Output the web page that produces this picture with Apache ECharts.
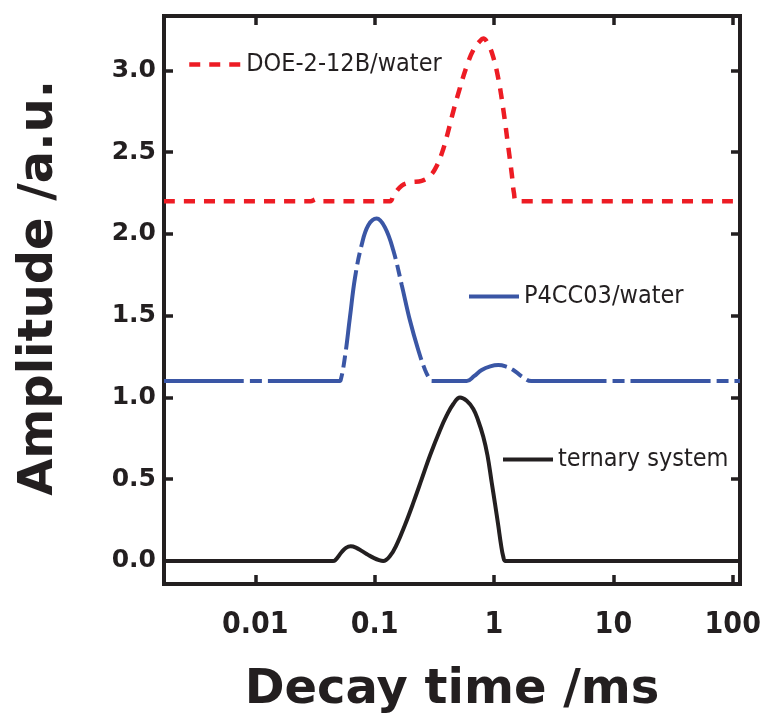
<!DOCTYPE html>
<html>
<head>
<meta charset="utf-8">
<script src="https://cdn.jsdelivr.net/npm/echarts@6/dist/echarts.min.js"></script>
<style>
html,body{margin:0;padding:0;background:#fff;}
#chart{width:765px;height:720px;}
</style>
</head>
<body>
<div id="chart"></div>
<script>
// ---- data (decay time in ms, amplitude in a.u.) ----
const xMin = 0.00172;
const xMax = 115;
const yMin = -0.141;
const yMax = 3.333;
const yTicks = [0, 0.5, 1.0, 1.5, 2.0, 2.5, 3.0];

const doeX = [0.00172, 0.029, 0.0326, 0.036, 0.1344, 0.1433, 0.1684, 0.1977, 0.248, 0.291, 0.331, 0.376, 0.414, 0.456, 0.519, 0.59, 0.671, 0.763, 0.813, 0.896, 0.987, 1.087, 1.197, 1.318, 1.407, 1.47, 1.55, 115];
const doeY = [2.2, 2.2, 2.212, 2.2, 2.2, 2.234, 2.295, 2.315, 2.325, 2.355, 2.415, 2.52, 2.63, 2.75, 2.895, 3.025, 3.125, 3.18, 3.195, 3.16, 3.08, 2.95, 2.76, 2.53, 2.37, 2.25, 2.2, 2.2];

const p4X = [0.00172, 0.05, 0.0519, 0.0564, 0.0621, 0.0684, 0.0778, 0.0885, 0.104, 0.122, 0.1433, 0.1684, 0.1977, 0.232, 0.264, 0.285, 0.3006, 0.59, 0.68, 0.789, 0.93, 1.087, 1.25, 1.451, 1.7, 2.05, 115];
const p4Y = [1.1, 1.1, 1.105, 1.248, 1.49, 1.73, 1.932, 2.053, 2.094, 2.04, 1.90, 1.69, 1.47, 1.29, 1.17, 1.12, 1.1, 1.1, 1.13, 1.168, 1.19, 1.198, 1.19, 1.168, 1.13, 1.1, 1.1];

const terX = [0.00172, 0.0448, 0.0465, 0.053, 0.0575, 0.063, 0.0697, 0.0785, 0.0882, 0.099, 0.1089, 0.118, 0.1344, 0.153, 0.1795, 0.2107, 0.2478, 0.2909, 0.3527, 0.4015, 0.456, 0.519, 0.5904, 0.6708, 0.734, 0.8132, 0.882, 0.9566, 1.0195, 1.0865, 1.1446, 1.1967, 1.2486, 115];
const terY = [0, 0, 0.003, 0.055, 0.08, 0.09, 0.082, 0.06, 0.037, 0.017, 0.005, 0, 0.03, 0.10, 0.22, 0.355, 0.50, 0.645, 0.80, 0.89, 0.96, 1.0, 0.98, 0.93, 0.862, 0.76, 0.645, 0.48, 0.35, 0.215, 0.10, 0.025, 0, 0];

const names = ['DOE-2-12B/water', 'P4CC03/water', 'ternary system'];
const colors = ['#ed1c24', '#3a56a5', '#231f20'];

function pairs(xs, ys) { return xs.map((x, i) => [x, ys[i]]); }

const ink = '#231f20';
const chart = echarts.init(document.getElementById('chart'), null, {renderer: 'canvas'});

function xLabel(v) {
  const l = Math.log10(v);
  if (Math.abs(l - Math.round(l)) > 1e-6) return '';
  return String(+v.toPrecision(3));
}

const legendText = {fontFamily: 'DejaVu Sans Condensed', fontSize: 25, color: ink};
const hiddenSymbol = {opacity: 0, borderWidth: 0};

const option = {
  backgroundColor: '#fff',
  animation: false,
  grid: {left: 164, right: 25, top: 16, bottom: 130, show: true, borderWidth: 4, borderColor: ink, backgroundColor: 'transparent'},
  legend: [
    {data: [names[0]], left: 187, top: 52, padding: 0, itemWidth: 52, itemHeight: 26, textStyle: legendText, itemStyle: hiddenSymbol, lineStyle: {width: 4.5}},
    {data: [names[1]], left: 467, top: 284, padding: 0, itemWidth: 50, itemHeight: 26, textStyle: legendText, itemStyle: hiddenSymbol, lineStyle: {width: 4}},
    {data: [names[2]], left: 501, top: 447, padding: 0, itemWidth: 50, itemHeight: 26, textStyle: legendText, itemStyle: hiddenSymbol, lineStyle: {width: 4}}
  ],
  xAxis: [
    {
      type: 'log', logBase: 10, min: xMin, max: xMax, position: 'bottom',
      name: 'Decay time /ms', nameLocation: 'middle', nameGap: 83, nameMoveOverlap: false,
      nameTextStyle: {fontFamily: 'DejaVu Sans', fontWeight: 'bold', fontSize: 48, color: ink},
      axisLine: {show: false, onZero: false},
      axisTick: {show: true, inside: true, length: 9, lineStyle: {color: ink, width: 3.5}},
      minorTick: {show: false},
      splitLine: {show: false},
      axisLabel: {margin: 26, formatter: xLabel, fontFamily: 'DejaVu Sans Condensed', fontWeight: 'bold', fontSize: 30, color: ink}
    },
    {
      type: 'log', logBase: 10, min: xMin, max: xMax, position: 'top',
      axisLine: {show: false, onZero: false},
      axisTick: {show: true, inside: true, length: 9, lineStyle: {color: ink, width: 3.5}},
      splitLine: {show: false},
      axisLabel: {show: false}
    }
  ],
  yAxis: [
    {
      type: 'value', min: yMin, max: yMax, position: 'left',
      name: 'Amplitude /a.u.', nameLocation: 'middle', nameGap: 100, nameMoveOverlap: false,
      nameTextStyle: {fontFamily: 'DejaVu Sans', fontWeight: 'bold', fontSize: 48, color: ink, padding: [0, 0, 0, 24]},
      axisLine: {show: false, onZero: false},
      axisTick: {show: true, inside: true, length: 9, customValues: yTicks, lineStyle: {color: ink, width: 3.5}},
      splitLine: {show: false},
      axisLabel: {margin: 8, customValues: yTicks, formatter: v => v.toFixed(1), fontFamily: 'DejaVu Sans', fontWeight: 'bold', fontSize: 25, color: ink}
    },
    {
      type: 'value', min: yMin, max: yMax, position: 'right',
      axisLine: {show: false, onZero: false},
      axisTick: {show: true, inside: true, length: 9, customValues: yTicks, lineStyle: {color: ink, width: 3.5}},
      splitLine: {show: false},
      axisLabel: {show: false}
    }
  ],
  series: [
    {name: names[0], type: 'line', data: pairs(doeX, doeY), smooth: 0.4, symbol: 'none', color: colors[0],
     lineStyle: {color: colors[0], width: 4.5, type: [11, 9]}},
    {name: names[1], type: 'line', data: pairs(p4X, p4Y), smooth: 0.4, symbol: 'none', color: colors[1],
     lineStyle: {color: colors[1], width: 4, type: [80, 6, 12, 6]}},
    {name: names[2], type: 'line', data: pairs(terX, terY), smooth: 0.4, symbol: 'none', color: colors[2],
     lineStyle: {color: colors[2], width: 4}}
  ]
};
chart.setOption(option);
</script>
</body>
</html>
